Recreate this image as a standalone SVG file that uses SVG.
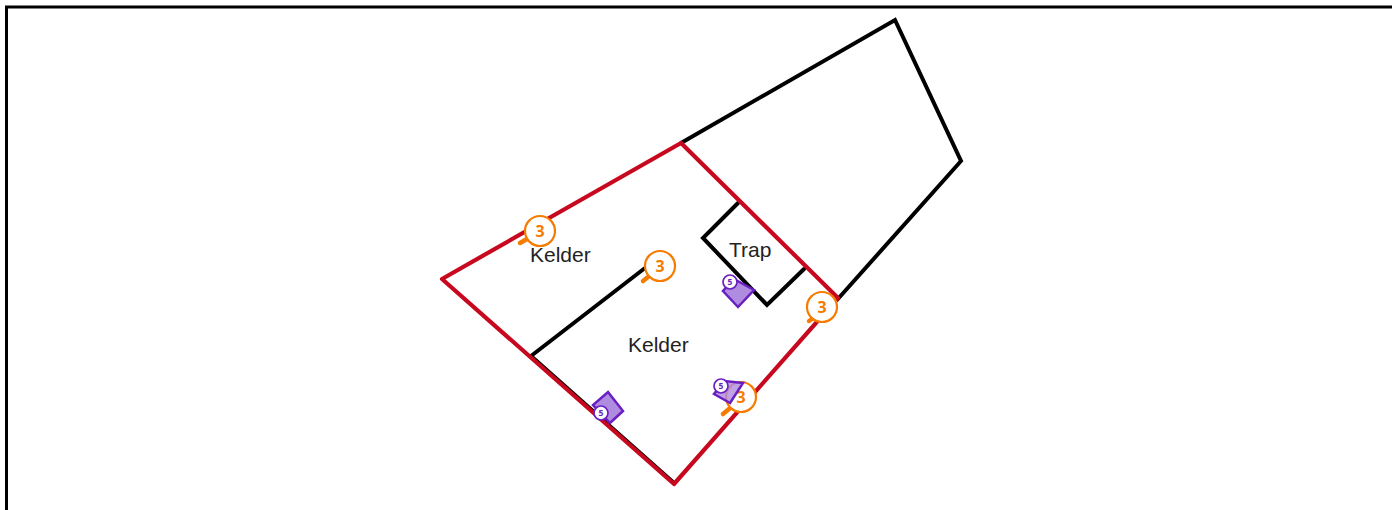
<svg xmlns="http://www.w3.org/2000/svg" width="1392" height="510" viewBox="0 0 1392 510">
<style>
.w{fill:none;stroke:#000;stroke-width:4;stroke-linejoin:miter;stroke-linecap:round}
.r{fill:none;stroke:#c8081f;stroke-width:4.200;stroke-linejoin:round;stroke-linecap:round}
.lbl{font-family:"Liberation Sans",Arial,sans-serif;font-size:21px;fill:#222}
.pin{fill:#fff;stroke:#f57c00;stroke-width:2.200}
.tail{stroke:#f57c00;stroke-width:4.500;stroke-linecap:round}
.pt{font-family:"Open Sans","Liberation Sans",sans-serif;font-size:16px;font-weight:700;fill:#f57c00;text-anchor:middle}
.win{fill:#b08ce0;stroke:#6a1fc2;stroke-width:2.500}
.c5{fill:#fff;stroke:#6a1fc2;stroke-width:1.700}
.t5{font-family:"Open Sans","Liberation Sans",sans-serif;font-size:8.500px;font-weight:700;fill:#6a1fc2;text-anchor:middle}
</style>
<rect x="0" y="0" width="1392" height="510" fill="#fff"/>
<path d="M6.500 510V7H1392" fill="none" stroke="#000" stroke-width="3"/>
<g id="connectors">
<path class="w" d="M681 143L895 20L961 161L837 300"/>
<path class="w" d="M738 203L703 238L767 305L804 269"/>
<path class="w" d="M531 356L645 268"/>
<path class="w" d="M531 356L674 483"/>
<path class="r" d="M681 143L442 279L674 484L838 298L681 143"/>
</g>
<g id="room-kelder-1"><text class="lbl" x="530" y="262">Kelder</text></g>
<g id="room-kelder-2"><text class="lbl" x="628" y="352">Kelder</text></g>
<g id="room-trap"><text class="lbl" x="729" y="257">Trap</text></g>
<g id="pin-a"><line class="tail" x1="520" y1="243" x2="527" y2="239"/><circle class="pin" cx="540" cy="231" r="15"/><text class="pt" x="540" y="237">3</text></g>
<g id="pin-b"><line class="tail" x1="643" y1="281" x2="648" y2="277"/><circle class="pin" cx="660" cy="266" r="15"/><text class="pt" x="660" y="272">3</text></g>
<g id="pin-c"><line class="tail" x1="809" y1="321" x2="812" y2="319"/><circle class="pin" cx="822" cy="307" r="15"/><text class="pt" x="822" y="313">3</text></g>
<g id="pin-d"><line class="tail" x1="723" y1="414" x2="729" y2="409"/><circle class="pin" cx="741" cy="397" r="15"/><text class="pt" x="741" y="403">3</text></g>
<g id="window-a"><path class="win" d="M738 307L723 291L734 279L754 290Z"/><circle class="c5" cx="730" cy="282" r="7"/><text class="t5" x="730" y="285">5</text></g>
<g id="window-b"><path class="win" d="M608 392L623 411L610 423L593 405Z"/><circle class="c5" cx="601" cy="413" r="7"/><text class="t5" x="601" y="416">5</text></g>
<g id="window-c"><path class="win" fill-opacity="0.8" d="M730 403L714 394L725 381L743 383Z"/><circle class="c5" cx="721" cy="386" r="7"/><text class="t5" x="721" y="389">5</text></g>
</svg>
